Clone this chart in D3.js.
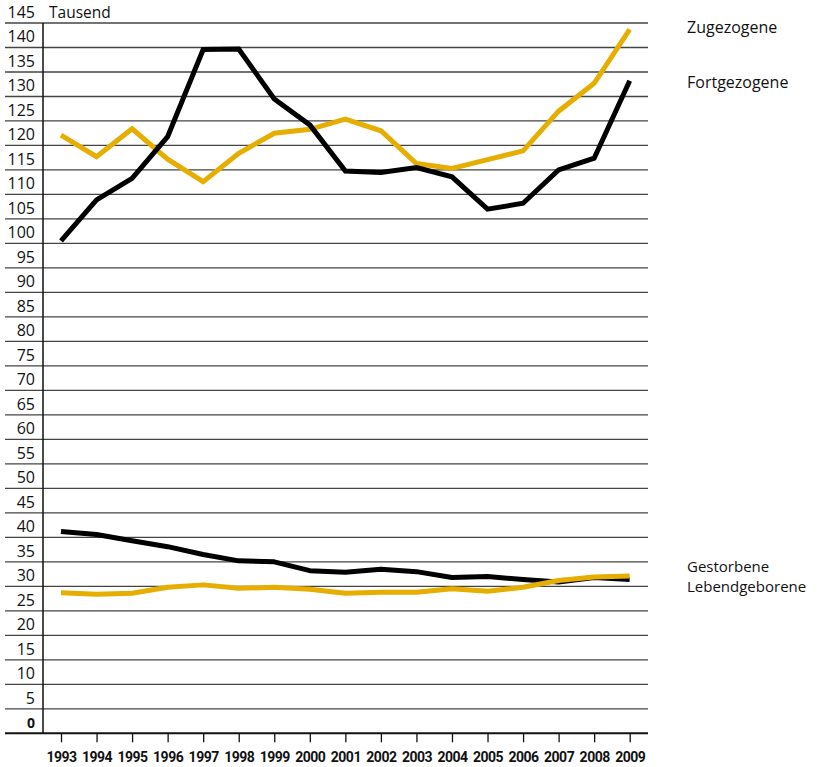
<!DOCTYPE html>
<html>
<head>
<meta charset="utf-8">
<script src="https://cdn.jsdelivr.net/npm/d3@7"></script>
<style>
	body { margin: 0; background: #fff; }
	text { font-family: "Open Sans", "Noto Sans", sans-serif; fill: #111; }
	.year { font-family: Roboto, "Noto Sans", sans-serif; font-weight: bold; letter-spacing: -0.5px; }
</style>
</head>
<body>
<div id="chart"></div>
<script>
// Bevölkerungsbewegung, in Tausend
var years = [1993, 1994, 1995, 1996, 1997, 1998, 1999, 2000, 2001, 2002, 2003, 2004, 2005, 2006, 2007, 2008, 2009];
var zugezogene     = [122.1, 117.7, 123.4, 117.2, 112.6, 118.4, 122.5, 123.3, 125.4, 123.0, 116.3, 115.3, 117.1, 118.9, 127.0, 132.7, 143.7];
var fortgezogene   = [100.5, 108.9, 113.3, 121.8, 139.6, 139.7, 129.5, 124.2, 114.8, 114.5, 115.5, 113.6, 107.0, 108.2, 115.0, 117.4, 133.2];
var gestorbene     = [41.2, 40.6, 39.3, 38.1, 36.5, 35.2, 35.0, 33.2, 32.9, 33.5, 33.0, 31.8, 32.0, 31.4, 30.9, 31.8, 31.4];
var lebendgeborene = [28.7, 28.4, 28.6, 29.8, 30.3, 29.6, 29.8, 29.4, 28.6, 28.8, 28.8, 29.5, 29.0, 29.8, 31.2, 31.9, 32.1];
var yTicks = d3.range(0, 150, 5);

var gold = "#e5ae00";
var width = 824, height = 767;

var svg = d3.select("#chart").append("svg")
	.attr("width", width)
	.attr("height", height);

var x = d3.scaleLinear().domain([1993, 2009]).range([61, 629.7]);
var y = d3.scaleLinear().domain([0, 145]).range([733.3, 23]);

// grid lines
svg.append("g")
	.selectAll("line")
	.data(yTicks.filter(function(d) { return d > 0; }))
	.enter().append("line")
	.attr("x1", 5).attr("x2", 648)
	.attr("y1", function(d) { return y(d); })
	.attr("y2", function(d) { return y(d); })
	.attr("stroke", "#444")
	.attr("stroke-width", 1.3);

// y labels
svg.append("g")
	.selectAll("text")
	.data(yTicks)
	.enter().append("text")
	.attr("x", 35)
	.attr("y", function(d) { return y(d) - 5; })
	.attr("text-anchor", "end")
	.style("font-size", function(d) { return d == 0 ? "14px" : "16px"; })
	.style("font-weight", function(d) { return d == 0 ? "bold" : null; })
	.text(function(d) { return d; });

svg.append("text")
	.attr("x", 49).attr("y", 18)
	.style("font-size", "15.5px")
	.text("Tausend");

// x axis
var xAxis = d3.axisBottom(x)
	.tickValues(years)
	.tickFormat(d3.format("d"))
	.tickSize(9)
	.tickPadding(10);

var gx = svg.append("g")
	.attr("transform", "translate(0," + y(0) + ")")
	.call(xAxis);
gx.select(".domain").remove();
gx.selectAll(".tick line").attr("stroke", "#111").attr("stroke-width", 1.3);
gx.selectAll(".tick text")
	.attr("class", "year")
	.attr("fill", "#111")
	.style("font-size", "14px");

svg.append("line")
	.attr("x1", 5).attr("x2", 648)
	.attr("y1", y(0)).attr("y2", y(0))
	.attr("stroke", "#111").attr("stroke-width", 2);

svg.append("line")
	.attr("x1", 43).attr("x2", 43)
	.attr("y1", y(145)).attr("y2", y(0))
	.attr("stroke", "#111").attr("stroke-width", 1.5);

// series
var series = [
	{name: "Zugezogene", values: zugezogene, color: gold, join: "miter"},
	{name: "Fortgezogene", values: fortgezogene, color: "#000", join: "miter"},
	{name: "Gestorbene", values: gestorbene, color: "#000", join: "round"},
	{name: "Lebendgeborene", values: lebendgeborene, color: gold, join: "round"}
];

var line = d3.line()
	.x(function(d, i) { return x(years[i]); })
	.y(function(d) { return y(d); });

series.forEach(function(s) {
	svg.append("path")
		.datum(s.values)
		.attr("fill", "none")
		.attr("stroke", s.color)
		.attr("stroke-width", 5)
		.attr("stroke-linejoin", s.join)
		.attr("d", line);
});

// labels on the right
var labels = [
	{text: "Zugezogene", y: 33, size: 16},
	{text: "Fortgezogene", y: 88, size: 16},
	{text: "Gestorbene", y: 572, size: 15},
	{text: "Lebendgeborene", y: 592, size: 15}
];
svg.append("g")
	.selectAll("text")
	.data(labels)
	.enter().append("text")
	.attr("x", 687)
	.attr("y", function(d) { return d.y; })
	.style("font-size", function(d) { return d.size + "px"; })
	.text(function(d) { return d.text; });
</script>
</body>
</html>
